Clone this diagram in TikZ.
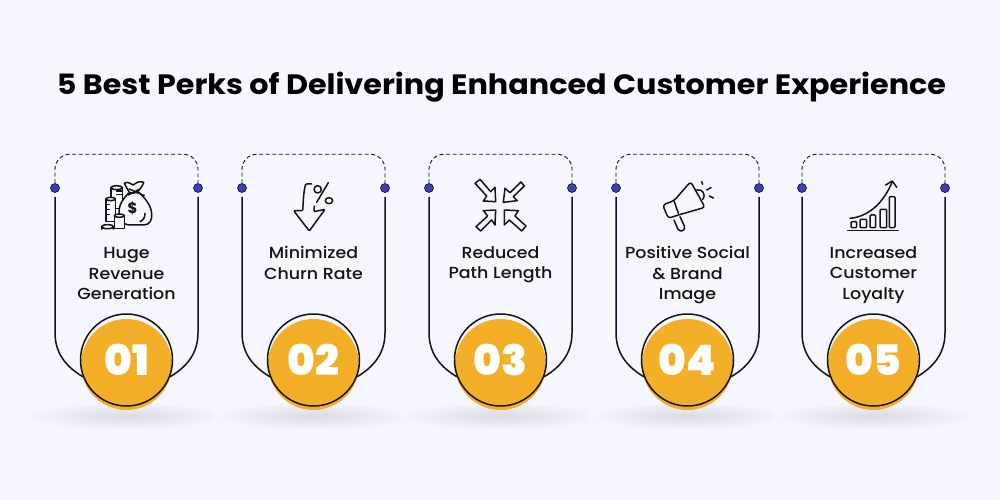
\documentclass[tikz,border=0pt]{standalone}
\usepackage{fontspec}
\setmainfont{Poppins}
\newfontfamily\titlefont[FakeStretch=1.08]{Poppins Bold}
\newfontfamily\labelfont[FakeStretch=1.09]{Poppins Medium}
\newfontfamily\numfont{Poppins Black}
\usetikzlibrary{calc}
\definecolor{pagebg}{HTML}{F5F6FE}
\definecolor{amber}{HTML}{F4AF28}
\definecolor{dotblue}{HTML}{3F3DB8}
\definecolor{ink}{HTML}{141414}
\definecolor{shadowc}{HTML}{DADAE2}
\tikzset{
  iconline/.style={draw=ink,line width=1.5pt,line join=round,line cap=round},
  iconfill/.style={iconline,fill=pagebg},
  frameline/.style={draw=ink,line width=1.5pt},
  dashline/.style={draw=ink,line width=0.9pt,dash pattern=on 4pt off 2.6pt,rounded corners=15pt},
  enddot/.style={circle,draw=ink,line width=0.6pt,fill=dotblue,minimum size=9pt,inner sep=0pt},
  ringnode/.style={circle,draw=ink,line width=1.5pt,minimum size=92pt,inner sep=0pt},
  discnode/.style={circle,fill=amber,minimum size=91pt,inner sep=0pt},
  numnode/.style={text=white,font=\fontsize{42}{42}\numfont\selectfont,inner sep=0pt},
  labelnode/.style={text=ink,align=center,inner sep=0pt,font=\fontsize{16}{20.5}\labelfont\selectfont},
  iconzoom/.style={x=0.3333pt,y=-0.3333pt,shift={(#1)}}
}
\begin{document}
\begin{tikzpicture}[x=1pt,y=-1pt]
\useasboundingbox (0,0) rectangle (1000,500);
\fill[pagebg] (0,0) rectangle (1000,500);
\node[font=\fontsize{28}{28}\titlefont\selectfont,text=black,inner sep=0pt] (title) at (501.5,87) {5 Best Perks of Delivering Enhanced Customer Experience};

\foreach \i/\cx/\num in {1/126.5/01,2/313.5/02,3/500.5/03,4/687.5/04,5/873.5/05}{
  \shade[inner color=shadowc,outer color=pagebg] (\cx,416) ellipse [x radius=100pt,y radius=14pt];
  \node[discnode] (disc\i) at (\cx,364.5) {};
  \node[ringnode] (ring\i) at (\cx,360) {};
  \node[enddot] (dl\i) at (\cx-71.5,188) {};
  \node[enddot] (dr\i) at (\cx+71.5,188) {};
  \node[numnode] (num\i) at (\cx,360) {\num};
  \draw[dashline] (dl\i.north) |- ([yshift=29pt]dr\i.north) -- (dr\i.north);
  \draw[frameline] ([yshift=-4pt]dl\i.south) -- ++(0,136) .. controls +(0,22) and +(-15,-9) .. (ring\i.201);
  \draw[frameline] ([yshift=-4pt]dr\i.south) -- ++(0,136) .. controls +(0,22) and +(15,-9) .. (ring\i.339);
}
\node[labelnode] (l1) at (126.5,274) {Huge\\Revenue\\Generation};
\node[labelnode] (l2) at (313.5,263) {Minimized\\Churn Rate};
\node[labelnode] (l3) at (500.5,265) {Reduced\\Path Length};
\node[labelnode] (l4) at (687.5,275.5) {Positive Social\\\& Brand\\Image};
\node[labelnode] (l5) at (873.5,275) {Increased\\Customer\\Loyalty};

% money bag
\begin{scope}[iconzoom={95pt,-175pt}]
  \draw[iconfill] (48,38) -- (48,100) -- (82,100) -- (82,38);
  \draw[iconfill] (65,38) ellipse [x radius=17,y radius=6];
  \draw[iconline] (65,48) -- (80,48) (65,58) -- (80,58);
  \draw[iconfill] (33,72) -- (33,140) -- (62,140) -- (62,72);
  \draw[iconfill] (47,72) ellipse [x radius=14,y radius=5];
  \draw[iconline] (33,88) -- (43,88) (33,103) -- (43,103) (33,118) -- (43,118);
  \draw[iconfill] (100,55) .. controls (85,72) and (72,85) .. (72,115) .. controls (72,140) and (85,150) .. (110,150) -- (145,150) .. controls (165,150) and (172,135) .. (170,115) .. controls (168,90) and (150,70) .. (132,52) -- cycle;
  \draw[iconfill] (103,52) .. controls (98,42) and (92,35) .. (88,25) .. controls (97,18) and (105,26) .. (115,30) .. controls (122,24) and (134,16) .. (146,22) .. controls (143,34) and (135,40) .. (130,48) .. controls (122,54) and (110,55) .. (103,52) -- cycle;
  \draw[iconline] (100,60) -- (135,42) (103,42) -- (148,62);
  \draw[iconline] (150,115) .. controls (150,128) and (145,135) .. (135,140);
  \node[inner sep=0pt,text=ink,font=\fontsize{15}{15}\selectfont\bfseries] (dollar) at (113,100) {\$};
  \draw[iconfill] (58,122) -- (58,160) -- (88,160) -- (88,122);
  \draw[iconfill] (73,122) ellipse [x radius=15,y radius=5];
  \draw[iconfill] (20,155) -- (20,162) arc[start angle=180,end angle=360,x radius=18,y radius=6] -- (56,155);
  \draw[iconfill] (38,155) ellipse [x radius=18,y radius=6];
\end{scope}

% percent arrow
\begin{scope}[iconzoom={270pt,-170pt}]
  \draw[iconline,rounded corners=1pt] (125,42) -- (107,42) .. controls (100,70) and (100,95) .. (98,122) -- (71,122) -- (118,183) -- (165,118) -- (132,125) -- (133,108);
  \draw[iconline] (143,58) ellipse [x radius=11,y radius=11];
  \draw[iconline] (177,92) ellipse [x radius=11,y radius=9];
  \draw[iconline] (175,38) -- (140,97);
\end{scope}

% converging arrows
\begin{scope}[iconzoom={460pt,-170pt}]
  \draw[iconline] (107,95) -- (105,52) -- (92,65) -- (60,28) -- (45,40) -- (80,78) -- (70,93) -- cycle;
  \draw[iconline] (130,97) -- (135,55) -- (150,68) -- (183,36) -- (193,48) -- (160,80) -- (172,92) -- cycle;
  \draw[iconline] (107,120) -- (70,122) -- (83,138) -- (48,170) -- (62,183) -- (95,150) -- (105,165) -- cycle;
  \draw[iconline] (133,120) -- (133,165) -- (148,150) -- (185,183) -- (198,168) -- (165,138) -- (175,122) -- cycle;
\end{scope}

% megaphone
\begin{scope}[iconzoom={650pt,-170pt}]
  \draw[iconline,rounded corners=3pt] (72,92) -- (122,35) -- (165,112) -- (85,135) -- (55,145) -- (38,105) -- cycle;
  \draw[iconline] (72,92) -- (85,130);
  \draw[iconline] (140,60) .. controls (155,55) and (170,72) .. (158,88);
  \draw[iconline] (72,150) -- (84,178) .. controls (92,188) and (108,182) .. (103,168) -- (90,140);
  \draw[iconline] (155,35) -- (158,43) (170,60) -- (183,53) (178,78) -- (190,84);
\end{scope}

% growth chart
\begin{scope}[iconzoom={835pt,-170pt}]
  \draw[iconline] (38,182) -- (190,182);
  \draw[iconline,rounded corners=1pt] (48,155) rectangle (65,173);
  \draw[iconline,rounded corners=1pt] (75,148) rectangle (95,173);
  \draw[iconline,rounded corners=1pt] (105,135) rectangle (122,173);
  \draw[iconline,rounded corners=1pt] (135,118) rectangle (155,173);
  \draw[iconline,rounded corners=1pt] (163,80) rectangle (180,173);
  \draw[iconline] (45,145) .. controls (100,140) and (145,100) .. (172,35);
  \draw[iconline] (152,45) -- (172,33) -- (185,52);
\end{scope}
\end{tikzpicture}
\end{document}
